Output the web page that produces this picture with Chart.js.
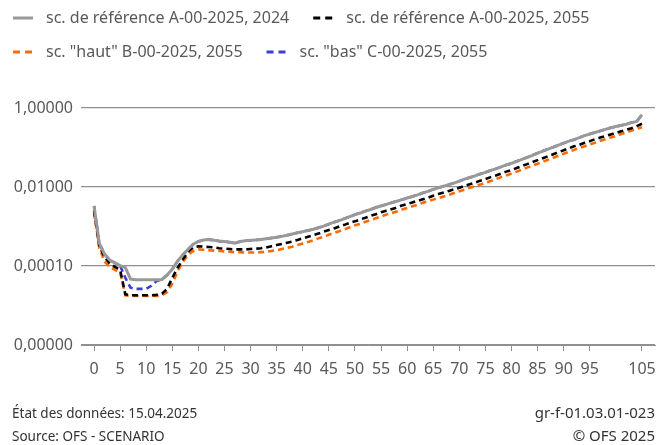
<!DOCTYPE html>
<html><head><meta charset="utf-8">
<script src="https://cdn.jsdelivr.net/npm/chart.js@4"></script>
<style>
html,body{margin:0;padding:0;background:#fff;}
#wrap{position:relative;width:670px;height:445px;overflow:hidden;}
canvas{position:absolute;left:0;top:0;}
.foot{position:absolute;font-family:'Noto Sans',sans-serif;color:#333;white-space:nowrap;}
</style></head><body>
<div id="wrap"><canvas id="c" width="670" height="445"></canvas>
<div class="foot" style="left:12px;top:402px;font-size:13.5px;line-height:23px;">État des données: 15.04.2025<br>Source: OFS - SCENARIO</div>
<div class="foot" style="right:15px;top:401px;font-size:15px;line-height:23px;text-align:right;">gr-f-01.03.01-023<br>© OFS 2025</div>
</div>
<script>
const ages = [0,1,2,3,4,5,6,7,8,9,10,11,12,13,14,15,16,17,18,19,20,21,22,23,24,25,26,27,28,29,30,31,32,33,34,35,36,37,38,39,40,41,42,43,44,45,46,47,48,49,50,51,52,53,54,55,56,57,58,59,60,61,62,63,64,65,66,67,68,69,70,71,72,73,74,75,76,77,78,79,80,81,82,83,84,85,86,87,88,89,90,91,92,93,94,95,96,97,98,99,100,101,102,103,104,105];

const seriesLabels = ['sc. de référence A-00-2025, 2024','sc. de référence A-00-2025, 2055','sc. "haut" B-00-2025, 2055','sc. "bas" C-00-2025, 2055'];

const refA2024 = [3.31e-3,3.80e-4,2.00e-4,1.41e-4,1.20e-4,1.02e-4,9.12e-5,4.68e-5,4.47e-5,4.47e-5,
4.47e-5,4.47e-5,4.47e-5,4.57e-5,5.89e-5,8.32e-5,1.32e-4,1.91e-4,2.63e-4,3.55e-4,
4.17e-4,4.57e-4,4.68e-4,4.47e-4,4.27e-4,4.17e-4,3.98e-4,3.80e-4,4.17e-4,4.37e-4,
4.47e-4,4.57e-4,4.68e-4,4.90e-4,5.13e-4,5.37e-4,5.62e-4,6.03e-4,6.46e-4,6.92e-4,
7.41e-4,7.94e-4,8.51e-4,9.33e-4,1.02e-3,1.15e-3,1.29e-3,1.41e-3,1.58e-3,1.78e-3,
2.00e-3,2.19e-3,2.45e-3,2.69e-3,3.02e-3,3.31e-3,3.63e-3,3.98e-3,4.37e-3,4.79e-3,
5.25e-3,5.75e-3,6.31e-3,7.08e-3,7.76e-3,8.71e-3,9.55e-3,1.05e-2,1.15e-2,1.26e-2,
1.41e-2,1.58e-2,1.74e-2,1.91e-2,2.14e-2,2.34e-2,2.63e-2,2.88e-2,3.24e-2,3.63e-2,
3.98e-2,4.47e-2,5.01e-2,5.62e-2,6.31e-2,7.24e-2,8.13e-2,9.12e-2,0.102,0.115,
0.129,0.145,0.158,0.178,0.200,0.219,0.240,0.263,0.288,0.316,
0.339,0.363,0.389,0.427,0.457,0.676];

const refA2055 = [2.50e-3,3.30e-4,1.70e-4,1.15e-4,9.55e-5,7.94e-5,1.91e-5,1.82e-5,1.82e-5,1.82e-5,
1.82e-5,1.82e-5,1.86e-5,2.00e-5,2.63e-5,5.01e-5,8.91e-5,1.45e-4,2.29e-4,2.95e-4,
3.16e-4,3.09e-4,3.02e-4,2.95e-4,2.82e-4,2.75e-4,2.69e-4,2.63e-4,2.63e-4,2.63e-4,
2.69e-4,2.75e-4,2.82e-4,2.95e-4,3.16e-4,3.39e-4,3.63e-4,3.89e-4,4.17e-4,4.57e-4,
5.01e-4,5.50e-4,6.03e-4,6.61e-4,7.41e-4,8.13e-4,8.91e-4,1.00e-3,1.10e-3,1.23e-3,
1.35e-3,1.51e-3,1.66e-3,1.86e-3,2.04e-3,2.29e-3,2.51e-3,2.75e-3,3.02e-3,3.39e-3,
3.72e-3,4.07e-3,4.47e-3,4.90e-3,5.37e-3,6.03e-3,6.61e-3,7.24e-3,7.94e-3,8.71e-3,
9.55e-3,1.07e-2,1.17e-2,1.29e-2,1.45e-2,1.58e-2,1.78e-2,1.95e-2,2.19e-2,2.45e-2,
2.69e-2,3.02e-2,3.39e-2,3.80e-2,4.27e-2,4.79e-2,5.37e-2,6.03e-2,6.76e-2,7.59e-2,
8.51e-2,9.55e-2,0.107,0.117,0.132,0.145,0.162,0.178,0.195,0.214,
0.234,0.257,0.282,0.309,0.347,0.398];

const hautB2055 = [2.20e-3,2.90e-4,1.30e-4,9.55e-5,7.94e-5,6.92e-5,1.82e-5,1.74e-5,1.74e-5,1.74e-5,
1.74e-5,1.74e-5,1.74e-5,1.82e-5,2.19e-5,3.55e-5,7.24e-5,1.26e-4,1.91e-4,2.40e-4,
2.63e-4,2.57e-4,2.51e-4,2.45e-4,2.40e-4,2.34e-4,2.29e-4,2.24e-4,2.24e-4,2.19e-4,
2.19e-4,2.19e-4,2.24e-4,2.29e-4,2.40e-4,2.51e-4,2.69e-4,2.88e-4,3.09e-4,3.39e-4,
3.72e-4,4.07e-4,4.47e-4,5.01e-4,5.50e-4,6.17e-4,6.92e-4,7.59e-4,8.51e-4,9.55e-4,
1.07e-3,1.17e-3,1.32e-3,1.45e-3,1.62e-3,1.78e-3,2.00e-3,2.19e-3,2.40e-3,2.69e-3,
2.95e-3,3.24e-3,3.55e-3,3.98e-3,4.37e-3,4.79e-3,5.25e-3,5.75e-3,6.31e-3,7.08e-3,
7.76e-3,8.51e-3,9.55e-3,1.05e-2,1.15e-2,1.29e-2,1.41e-2,1.58e-2,1.78e-2,1.95e-2,
2.19e-2,2.45e-2,2.75e-2,3.09e-2,3.47e-2,3.89e-2,4.37e-2,4.90e-2,5.50e-2,6.17e-2,
6.92e-2,7.76e-2,8.71e-2,9.77e-2,0.107,0.120,0.132,0.148,0.162,0.178,
0.195,0.219,0.240,0.269,0.295,0.324];

const basC2055 = [3.31e-3,3.80e-4,2.00e-4,1.41e-4,1.20e-4,1.02e-4,5.01e-5,2.82e-5,2.63e-5,2.63e-5,
2.63e-5,3.16e-5,4.17e-5,4.57e-5,5.89e-5,8.32e-5,1.32e-4,1.91e-4,2.63e-4,3.55e-4,
4.17e-4,4.57e-4,4.68e-4,4.47e-4,4.27e-4,4.17e-4,3.98e-4,3.80e-4,4.17e-4,4.37e-4,
4.47e-4,4.57e-4,4.68e-4,4.90e-4,5.13e-4,5.37e-4,5.62e-4,6.03e-4,6.46e-4,6.92e-4,
7.41e-4,7.94e-4,8.51e-4,9.33e-4,1.02e-3,1.15e-3,1.29e-3,1.41e-3,1.58e-3,1.78e-3,
2.00e-3,2.19e-3,2.45e-3,2.69e-3,3.02e-3,3.31e-3,3.63e-3,3.98e-3,4.37e-3,4.79e-3,
5.25e-3,5.75e-3,6.31e-3,7.08e-3,7.76e-3,8.71e-3,9.55e-3,1.05e-2,1.15e-2,1.26e-2,
1.41e-2,1.58e-2,1.74e-2,1.91e-2,2.14e-2,2.34e-2,2.63e-2,2.88e-2,3.24e-2,3.63e-2,
3.98e-2,4.47e-2,5.01e-2,5.62e-2,6.31e-2,7.24e-2,8.13e-2,9.12e-2,0.102,0.115,
0.129,0.145,0.158,0.178,0.200,0.219,0.240,0.263,0.288,0.316,
0.339,0.363,0.389,0.427,0.457,0.676];

const xTickValues = [0,5,10,15,20,25,30,35,40,45,50,55,60,65,70,75,80,85,90,95,105];
const yTickValues = [1e-6,1e-4,1e-2,1];

const FONT = 'Noto Sans';
const TXT = '#595959';
const GRID = '#8f8f8f';

const legendPlugin = {
  id: 'customLegend',
  afterDraw(chart) {
    const ctx = chart.ctx;
    const rows = [[0,1],[2,3]];
    const rowY = [18, 52];
    ctx.save();
    ctx.font = '16px "' + FONT + '"';
    ctx.textBaseline = 'middle';
    rows.forEach((row, r) => {
      let x = 13;
      const y = rowY[r];
      row.forEach(i => {
        const ds = chart.data.datasets[i];
        ctx.save();
        ctx.strokeStyle = ds.borderColor;
        ctx.lineWidth = 3;
        ctx.setLineDash(ds.borderDash && ds.borderDash.length ? [7,5] : []);
        ctx.beginPath(); ctx.moveTo(x, y); ctx.lineTo(x + 20, y); ctx.stroke();
        ctx.restore();
        ctx.fillStyle = TXT;
        ctx.fillText(ds.label, x + 33, y);
        x += 33 + ctx.measureText(ds.label).width + 24;
      });
    });
    ctx.restore();
  }
};

const fmt = v => Number(v).toFixed(5).replace('.', ',');

new Chart(document.getElementById('c'), {
  type: 'line',
  data: {
    labels: ages,
    datasets: [
      {label: seriesLabels[0], data: refA2024, borderColor: '#999999', borderWidth: 3, borderDash: []},
      {label: seriesLabels[1], data: refA2055, borderColor: '#000000', borderWidth: 2.6, borderDash: [6,4]},
      {label: seriesLabels[2], data: hautB2055, borderColor: '#ff6a00', borderWidth: 2.6, borderDash: [6,4]},
      {label: seriesLabels[3], data: basC2055, borderColor: '#3d3dd6', borderWidth: 2.6, borderDash: [6,4]}
    ]
  },
  options: {
    responsive: false,
    devicePixelRatio: 1,
    animation: false,
    events: [],
    elements: {point: {radius: 0}, line: {tension: 0, fill: false}},
    layout: {padding: {top: 108, right: 15, left: 0, bottom: 0}},
    plugins: {legend: {display: false}, tooltip: {enabled: false}},
    scales: {
      x: {
        type: 'linear', min: -2.5, max: 107.5,
        afterBuildTicks: a => { a.ticks = xTickValues.map(v => ({value: v})); },
        afterFit: a => { a.height = 100; },
        grid: {drawOnChartArea: false, drawTicks: true, tickLength: 6, color: GRID, lineWidth: 1},
        border: {display: true, color: GRID, width: 1},
        ticks: {padding: 9, color: TXT, font: {family: FONT, size: 16}, maxRotation: 0, autoSkip: false, callback: v => String(v)}
      },
      y: {
        type: 'logarithmic', min: 1e-6, max: 1,
        afterBuildTicks: a => { a.ticks = yTickValues.map(v => ({value: v})); },
        afterFit: a => { a.width = 81; },
        grid: {drawTicks: false, color: GRID, lineWidth: 1.3},
        border: {display: false},
        ticks: {padding: 8, color: TXT, font: {family: FONT, size: 16}, callback: v => fmt(v)}
      }
    }
  },
  plugins: [legendPlugin]
});
</script>
</body></html>
